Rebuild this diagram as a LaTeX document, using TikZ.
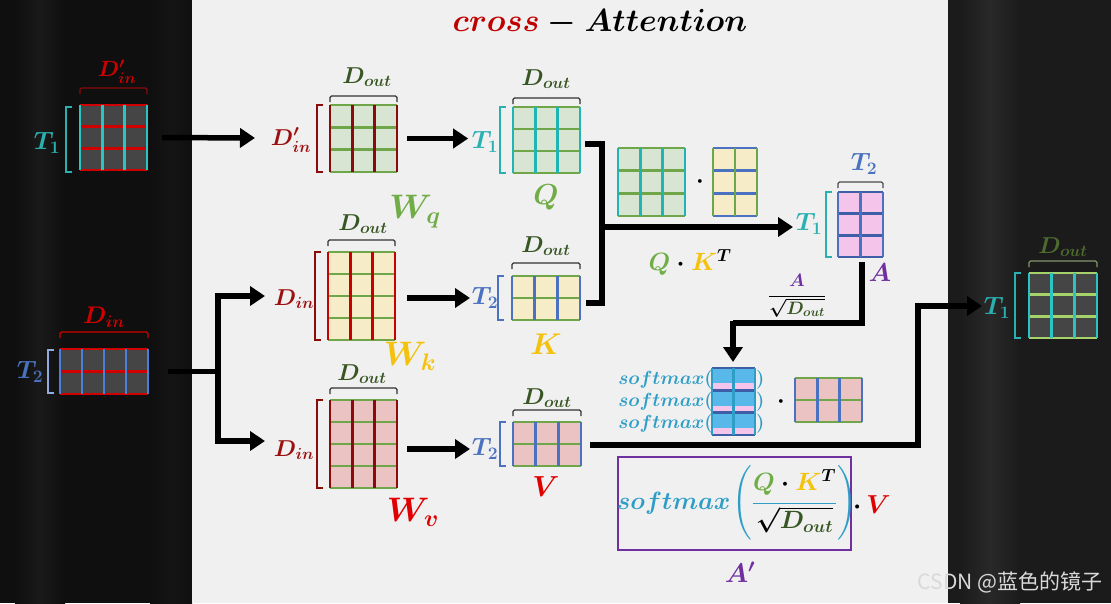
\RequirePackage{fix-cm}
\documentclass[tikz,border=0pt]{standalone}
\usepackage{amsmath}
\usepackage{fontspec}
\newfontfamily\cjkfont{Noto Sans CJK SC}
\usetikzlibrary{arrows.meta,fit,calc}
\definecolor{bgdark}{HTML}{0F0F0F}
\definecolor{bgdarkR}{HTML}{1B1B1B}
\definecolor{bglight}{HTML}{F0F0F0}
\definecolor{crossred}{HTML}{C00000}
\definecolor{lgfill}{HTML}{D9E5D3}
\definecolor{ygfill}{HTML}{F6ECC8}
\definecolor{pkfill}{HTML}{EBC3C3}
\definecolor{mgfill}{HTML}{F4C4EA}
\definecolor{grline}{HTML}{6FA64A}
\definecolor{drline}{HTML}{8B0A0A}
\definecolor{rdline}{HTML}{C80000}
\definecolor{cyline}{HTML}{1FB5B5}
\definecolor{blline}{HTML}{4A72C0}
\definecolor{dbline}{HTML}{3E5FA8}
\definecolor{tcyan}{HTML}{2AB0B0}
\definecolor{tblue}{HTML}{4A72C0}
\definecolor{dgreen}{HTML}{375623}
\definecolor{qgreen}{HTML}{70AD47}
\definecolor{kyellow}{HTML}{F4C20D}
\definecolor{vred}{HTML}{E00000}
\definecolor{dinred}{HTML}{9B1010}
\definecolor{apurple}{HTML}{7030A0}
\definecolor{smcyan}{HTML}{2F9EC7}
\definecolor{smblue}{HTML}{58B8EA}
\definecolor{darkfill}{HTML}{454545}
\definecolor{tlred}{HTML}{D00000}
\definecolor{tlblue}{HTML}{4A80D8}
\definecolor{outcyan}{HTML}{2CC3C3}
\definecolor{outgreen}{HTML}{A5D36A}
\definecolor{olive}{HTML}{4E6B2E}
\newcommand\fsz[1]{\fontsize{#1}{#1}\selectfont}
\newcommand\setmat[3]{\colorlet{mf}{#1}\colorlet{mv}{#2}\colorlet{mh}{#3}}
% name, x1, y1, x2, y2, cols, rows
\newcommand\gridmat[7]{%
  \fill[mf] (#2,#3) rectangle (#4,#5);
  \foreach \k in {0,...,#7}{\pgfmathsetmacro\yy{#3+(#5-#3)*\k/#7}\draw[mh,line width=2.8pt] (#2,\yy) -- (#4,\yy);}
  \foreach \k in {0,...,#6}{\pgfmathsetmacro\xx{#2+(#4-#2)*\k/#6}\draw[mv,line width=2.8pt] (\xx,#3) -- (\xx,#5);}
  \node[fit={(#2,#3) (#4,#5)},inner sep=0pt] (#1) {};
}
% x, y1, y2, colour
\newcommand\lbrak[4]{\draw[#4,line width=1.3pt] (#1+6,#2) -- (#1,#2) -- (#1,#3) -- (#1+6,#3);}
% x1, x2, y, colour
\newcommand\tbrak[4]{\draw[#4,line width=1.3pt,rounded corners=1.5pt] (#1,#3+6) -- (#1,#3) -- (#2,#3) -- (#2,#3+6);}
\begin{document}
\begin{tikzpicture}[x=1pt,y=-1pt,
  lab/.style={inner sep=0pt,font=\boldmath},
  arr/.style={line width=5.5pt,-{Triangle[length=15pt,width=19pt]}},
  conn/.style={line width=5.5pt}]
\useasboundingbox (0,0) rectangle (1111,603);
\fill[bgdark] (0,0) rectangle (192,603);
\shade[left color=bgdark,right color=bgdark,middle color=black!90!white] (15,0) rectangle (65,603);
\shade[left color=bgdark,right color=bgdark,middle color=black!92!white] (150,0) rectangle (192,603);
\fill[bglight] (192,0) rectangle (948,603);
\fill[bgdarkR] (948,0) rectangle (1111,603);
\shade[left color=bgdarkR,right color=bgdarkR,middle color=black!84!white] (960,0) rectangle (1020,603);

% title
\node[lab] (title) at (600,23) {\fsz{32}$\textcolor{crossred}{cross}-Attention$};

% input X1 (T1 x D'in)
\setmat{darkfill}{outcyan}{tlred}
\gridmat{X1}{80}{105}{147}{170}{3}{3}
\tbrak{80}{147}{88}{drline}
\node[lab,text=tlred] (lX1d) at (117,72) {\fsz{22}$D'_{in}$};
\lbrak{66}{107}{172}{tcyan}
\node[lab,text=tcyan] (lX1t) at (47,143) {\fsz{25}$T_1$};

% input X2 (T2 x Din)
\setmat{darkfill}{tlblue}{tlred}
\gridmat{X2}{60}{349}{148}{394}{4}{2}
\tbrak{60}{148}{332}{tlred}
\node[lab,text=tlred] (lX2d) at (104,317) {\fsz{24}$D_{in}$};
\lbrak{48}{350}{393}{tblue!60!white}
\node[lab,text=tblue] (lX2t) at (30,372) {\fsz{25}$T_2$};

% Wq
\setmat{lgfill}{drline}{grline}
\gridmat{Wq}{330}{105}{397}{172}{3}{3}
\tbrak{330}{397}{96}{black!80}
\node[lab,text=dgreen] (lWqo) at (367,77) {\fsz{23}$D_{out}$};
\lbrak{317}{105}{172}{drline}
\node[lab,text=dinred] (lWqi) at (291,140) {\fsz{23}$D'_{in}$};
\node[lab,text=qgreen] (lWq) at (415,212) {\fsz{34}$W_q$};

% Q
\setmat{lgfill}{cyline}{grline}
\gridmat{Q}{513}{107}{580}{173}{3}{3}
\tbrak{513}{580}{98}{black!80}
\node[lab,text=dgreen] (lQo) at (546,79) {\fsz{23}$D_{out}$};
\lbrak{500}{107}{173}{tcyan}
\node[lab,text=tcyan] (lQt) at (485,142) {\fsz{25}$T_1$};
\node[lab,text=qgreen] (lQ) at (546,197) {\fsz{29}$Q$};

% Wk
\setmat{ygfill}{rdline}{grline}
\gridmat{Wk}{328}{252}{395}{340}{3}{4}
\tbrak{328}{395}{240}{black!80}
\node[lab,text=dgreen] (lWko) at (363,224) {\fsz{23}$D_{out}$};
\lbrak{315}{252}{340}{drline}
\node[lab,text=dinred] (lWki) at (294,299) {\fsz{23}$D_{in}$};
\node[lab,text=kyellow] (lWk) at (410,356) {\fsz{34}$W_k$};

% K
\setmat{ygfill}{blline}{grline}
\gridmat{K}{512}{276}{580}{320}{3}{2}
\tbrak{512}{580}{263}{black!80}
\node[lab,text=dgreen] (lKo) at (546,246) {\fsz{23}$D_{out}$};
\lbrak{498}{276}{320}{tblue}
\node[lab,text=tblue] (lKt) at (485,298) {\fsz{25}$T_2$};
\node[lab,text=kyellow] (lK) at (546,344) {\fsz{30}$K$};

% Wv
\setmat{pkfill}{drline}{grline}
\gridmat{Wv}{330}{400}{397}{488}{3}{4}
\tbrak{330}{397}{388}{black!80}
\node[lab,text=dgreen] (lWvo) at (362,374) {\fsz{23}$D_{out}$};
\lbrak{317}{400}{488}{drline}
\node[lab,text=dinred] (lWvi) at (294,450) {\fsz{23}$D_{in}$};
\node[lab,text=vred] (lWv) at (413,512) {\fsz{34}$W_v$};

% V
\setmat{pkfill}{blline}{grline}
\gridmat{V}{513}{422}{581}{466}{3}{2}
\tbrak{513}{581}{410}{black!80}
\node[lab,text=dgreen] (lVo) at (547,398) {\fsz{23}$D_{out}$};
\lbrak{500}{422}{466}{tblue}
\node[lab,text=tblue] (lVt) at (485,449) {\fsz{25}$T_2$};
\node[lab,text=vred] (lV) at (546,487) {\fsz{29}$V$};

% Q . K^T
\setmat{lgfill}{cyline}{grline}
\gridmat{Qc}{618}{148}{685}{216}{3}{3}
\node[lab] (dot1) at (700,182) {\fsz{24}$\cdot$};
\setmat{ygfill}{grline}{blline}
\gridmat{KT}{713}{148}{757}{216}{2}{3}
\node[lab] (lQK) at (690,262) {\fsz{25}$\textcolor{qgreen}{Q}\cdot\textcolor{kyellow}{K}^{T}$};

% A
\setmat{mgfill}{blline}{dbline}
\gridmat{A}{838}{192}{883}{257}{2}{3}
\tbrak{838}{883}{182}{black!70}
\node[lab,text=tblue] (lAt2) at (864,164) {\fsz{25}$T_2$};
\lbrak{826}{192}{257}{tcyan}
\node[lab,text=tcyan] (lAt1) at (809,224) {\fsz{25}$T_1$};
\node[lab,text=apurple] (lA) at (880,273) {\fsz{26}$A$};
\node[lab] (lfrac) at (797,296) {\fsz{18}$\dfrac{\textcolor{apurple}{A}}{\sqrt{\textcolor{dgreen}{D_{out}}}}$};

% softmax rows
\fill[smblue] (712,368) rectangle (755,435);
\foreach \r in {0,1,2}{\pgfmathsetmacro\yb{368+67*(\r+1)/3}\fill[mgfill] (712,\yb-7) rectangle (755,\yb-1.5);}
\foreach \k in {0,...,3}{\pgfmathsetmacro\yy{368+67*\k/3}\draw[dbline,line width=2.8pt] (712,\yy) -- (755,\yy);}
\foreach \k in {0,1,2}{\pgfmathsetmacro\xx{712+43*\k/2}\draw[smcyan,line width=2.8pt] (\xx,368) -- (\xx,435);}
\node[fit={(712,368) (755,435)},inner sep=0pt] (As) {};
\foreach \r/\yy in {1/380,2/402,3/424}{
  \node[lab,text=smcyan,anchor=east] (sm\r) at (713,\yy) {\fsz{19}$softmax($};
  \node[lab,text=smcyan,anchor=west] (cp\r) at (756,\yy) {\fsz{19}$)$};
}
\node[lab] (dot2) at (781,402) {\fsz{24}$\cdot$};
\setmat{pkfill}{blline}{grline}
\gridmat{Vc}{795}{378}{862}{422}{3}{2}

% formula box
\node[draw=apurple,line width=1.6pt,minimum width=233pt,minimum height=93pt,inner sep=0pt] (box) at (734.5,503.5) {};
\node[lab] (formula) at (737,503) {\fsz{25}$\color{smcyan}softmax\mkern-2mu\left(\dfrac{\textcolor{qgreen}{Q}\mathbin{\textcolor{black}{\cdot}}\textcolor{kyellow}{K}^{\textcolor{black}{T}}}{\textcolor{black}{\sqrt{\textcolor{dgreen}{D_{out}}}}}\right)$};
\node[lab,anchor=west] (dotV) at (853,505) {\fsz{26}$\cdot\,\textcolor{vred}{V}$};
\node[lab,text=apurple] (lAp) at (740,572) {\fsz{27}$A'$};

% output
\setmat{darkfill}{outcyan}{outgreen}
\gridmat{Out}{1029}{273}{1097}{338}{3}{3}
\tbrak{1029}{1097}{261}{olive!70!white}
\node[lab,text=olive] (lOo) at (1063,247) {\fsz{23}$D_{out}$};
\lbrak{1015}{273}{338}{tcyan}
\node[lab,text=tcyan] (lOt) at (997,308) {\fsz{25}$T_1$};

% connectors
\coordinate (t1) at (255,138);
\draw[arr] ([xshift=15pt]X1.east) -- (t1);
\coordinate (br) at (218,371.5);
\coordinate (tk) at (265,296);
\coordinate (tv) at (265,441);
\draw[conn] ([xshift=20pt]X2.east) -- (br);
\draw[arr] (br) |- (tk);
\draw[arr] (br) |- (tv);
\draw[arr] ([xshift=10pt]Wq.east) -- ([xshift=71pt]Wq.east);
\draw[arr] ([xshift=12pt]Wk.east |- lKt.west) -- (470,298);
\draw[arr] ([xshift=10pt]Wv.east |- lVt.west) -- (470,449);
\coordinate (qk) at (602,227);
\draw[conn] (585,144) -- (602,144) -- (602,303) -- (586,303);
\draw[arr] (qk) -- (793,227);
\coordinate (ad) at (733,362);
\draw[conn] (862,262) |- (733,323);
\draw[arr] (733,320.5) -- (ad);
\coordinate (vo) at (982,306);
\draw[conn] ([xshift=9pt]V.east |- 0,445) -| (918,303);
\draw[arr] (915.25,306) -- (vo);

% watermark
\node[inner sep=0pt,text=white!85!black] (wm) at (1010,582) {\cjkfont\fsz{21}CSDN @蓝色的镜子};
\end{tikzpicture}
\end{document}
